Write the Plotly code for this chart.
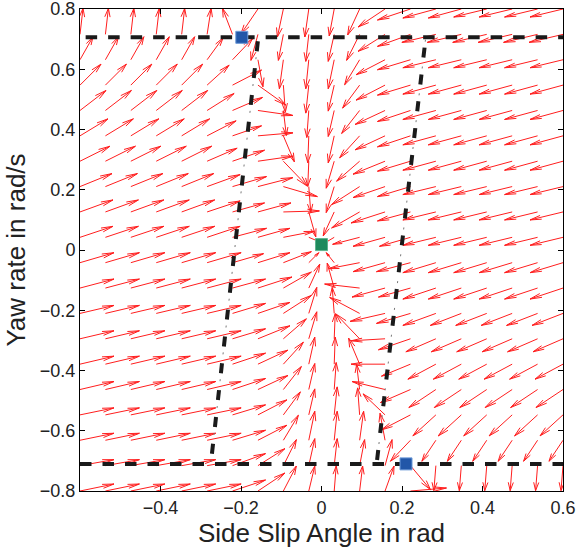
import numpy as np
import plotly.graph_objects as go

# ---------------- data ----------------
beta_grid = np.linspace(-0.6, 0.6, 20)      # side slip angle grid (rad), left -> right
r_grid = np.linspace(0.8, -0.8, 20)         # yaw rate grid (rad/s), top row first


def rep(p, n):
    return [p] * n


# Quiver field: for each grid row (top first) the 20 arrows,
# each as (d_beta, d_r) extent of the drawn arrow, in reference screen pixels (right / up positive)
FIELD_ROWS = [
    rep((3, 26), 6) + [(2, 26), (-17, -25), (-6, -28), (-4, -28), (-5, -27), (-12, -26), (-27, -18), (-33, -11)]
    + [(-33, -9), (-33, -9), (-33, -8), (-33, -8), (-33, -8), (-33, -8)],
    rep((3, 26), 5) + [(4, 26), (-10, 26), (-7, -26), (-5, -26), (-3, -27), (-6, -27), (-13, -26), (-27, -17), (-33, -12)]
    + rep((-34, -8), 6),
    rep((13, 23), 5) + [(16, 22), (20, 21), (5, -27), (-4, -29), (-3, -29), (-6, -29), (-15, -25), (-29, -15), (-33, -10)]
    + rep((-33, -8), 6),
    rep((21, 21), 5) + [(22, 20), (29, 15), (28, -20), (2, -27), (-3, -28), (-6, -26), (-17, -23), (-29, -15), (-33, -10)]
    + rep((-33, -9), 6),
    rep((26, 20), 5) + [(27, 17), (30, 13), (35, -5), (3, -25), (-2, -27), (-6, -26), (-18, -23), (-30, -14), (-33, -11)]
    + rep((-33, -9), 6),
    rep((28, 17), 5) + [(29, 15), (29, 10), (35, 3), (11, -26), (-1, -27), (-6, -27), (-20, -22), (-30, -14), (-33, -11)]
    + rep((-33, -9), 6),
    rep((30, 15), 5) + [(30, 13), (32, 11), (35, 5), (24, -25), (-1, -25), (-8, -27), (-23, -20), (-32, -13), (-33, -10)]
    + rep((-33, -9), 6),
    rep((32, 13), 5) + [(33, 12), (34, 10), (35, 9), (34, -10), (2, -26), (-8, -26), (-28, -18), (-32, -11), (-33, -10)]
    + rep((-33, -8), 6),
    rep((33, 12), 5) + [(33, 11), (32, 9), (33, 9), (36, 1), (7, -25), (-11, -24), (-28, -16), (-34, -11), (-33, -9)]
    + rep((-33, -8), 6),
    rep((33, 11), 6) + [(34, 9), (32, 9), (31, 6), (12, -5), (-10, -6), (-27, -7), (-32, -9), (-31, -9)]
    + rep((-33, -8), 6),
    rep((34, 10), 6) + [(31, 9), (32, 10), (28, 11), (10, 10), (-8, 10), (-31, -6), (-32, -9), (-34, -9)]
    + rep((-33, -10), 6),
    rep((34, 9), 6) + [(33, 9), (34, 11), (28, 16), (11, 24), (-7, 25), (-35, 4), (-33, -9), (-32, -9)]
    + rep((-33, -11), 6),
    rep((34, 8), 6) + [(33, 10), (32, 11), (28, 18), (8, 26), (-2, 26), (-30, 16), (-35, -8), (-34, -10)]
    + [(-33, -12)] + rep((-31, -12), 5),
    rep((34, 8), 6) + [(33, 10), (32, 13), (23, 20), (8, 27), (1, 25), (-24, 25), (-34, -2), (-32, -11)]
    + rep((-30, -13), 6),
    rep((34, 8), 6) + [(33, 11), (30, 14), (20, 22), (6, 27), (1, 27), (-11, 26), (-34, 0), (-29, -12)]
    + rep((-28, -15), 6),
    rep((34, 8), 6) + [(33, 11), (30, 14), (18, 23), (6, 26), (2, 27), (-3, 25), (-33, 8), (-30, -13)]
    + rep((-27, -18), 6),
    rep((34, 7), 6) + [(33, 10), (29, 15), (17, 23), (6, 26), (3, 28), (-2, 27), (-22, 21), (-29, -15)]
    + rep((-23, -21), 6),
    rep((34, 7), 6) + [(33, 10), (29, 15), (15, 25), (6, 29), (3, 29), (4, 29), (-5, 27), (-20, -21)]
    + rep((-14, -21), 6),
    rep((34, 6), 6) + [(33, 12), (27, 17), (13, 26), (6, 27), (3, 27), (5, 26), (7, 26), (20, -24)]
    + rep((-2, -25), 6),
    rep((34, 7), 6) + [(33, 11), (27, 18), (13, 25), (6, 25), (2, 25), (3, 25), (9, 25), (36, 3)]
    + rep((-3, -26), 6),
]

# switching lines / envelope boundaries
r_limit_top = 0.706
r_limit_bot = -0.710
left_line_beta = [-0.157, -0.275]
left_line_r = [0.706, -0.710]
right_line_beta = [0.137, 0.259]
right_line_r = [-0.710, 0.706]

# special points
blue_beta = [-0.198, 0.210]
blue_r = [0.706, -0.710]
green_beta = [0.0]
green_r = [0.018]

x_ticks = [-0.4, -0.2, 0, 0.2, 0.4, 0.6]
y_ticks = [-0.8, -0.6, -0.4, -0.2, 0, 0.2, 0.4, 0.6, 0.8]

# ---------------- layout geometry ----------------
W, H = 576, 548
ML, MR, MT, MB = 80, 13, 9, 57
XR = [-0.6, 0.6]
YR = [-0.8, 0.8]
PXX = (W - ML - MR) / (XR[1] - XR[0])
PXY = (H - MT - MB) / (YR[1] - YR[0])

# MATLAB quiver style arrow heads
ALPHA, BETA_W = 0.33, 0.23
xs, ys = [], []
for i, r in enumerate(r_grid):
    for k, b in enumerate(beta_grid):
        dx, dy = FIELD_ROWS[i][k]
        u, v = dx / PXX, dy / PXY
        x1, y1 = b + u, r + v
        xs += [b, x1, None]
        ys += [r, y1, None]
        xs += [x1 - ALPHA * (u + BETA_W * v), x1, x1 - ALPHA * (u - BETA_W * v), None]
        ys += [y1 - ALPHA * (v - BETA_W * u), y1, y1 - ALPHA * (v + BETA_W * u), None]

fig = go.Figure()
fig.add_trace(go.Scatter(x=xs, y=ys, mode="lines", line=dict(color="rgb(255,30,30)", width=1),
                         hoverinfo="skip", showlegend=False))

dash_col = "#1a1a1a"
fig.add_trace(go.Scatter(x=[-0.586, 0.6], y=[r_limit_top, r_limit_top], mode="lines",
                         line=dict(color=dash_col, width=4, dash="11.5px,11px"), showlegend=False))
fig.add_trace(go.Scatter(x=[-0.6, 0.6], y=[r_limit_bot, r_limit_bot], mode="lines",
                         line=dict(color=dash_col, width=4, dash="11.5px,11px"), showlegend=False))
for bx, by in [(left_line_beta, left_line_r), (right_line_beta, right_line_r)]:
    fig.add_trace(go.Scatter(x=bx, y=by, mode="lines",
                             line=dict(color=dash_col, width=4, dash="0px,4px,10px,13px"), showlegend=False))
    fig.add_trace(go.Scatter(x=bx, y=by, mode="lines",
                             line=dict(color="#777777", width=1, dash="0px,20px,2px,5px"), showlegend=False))

fig.add_trace(go.Scatter(x=blue_beta, y=blue_r, mode="markers",
                         marker=dict(symbol="square", size=12, color="#2257a8",
                                     line=dict(color="#6d9ad8", width=1)), showlegend=False))
fig.add_trace(go.Scatter(x=green_beta, y=green_r, mode="markers",
                         marker=dict(symbol="square", size=12, color="#1f8a5c",
                                     line=dict(color="#5fb38d", width=1)), showlegend=False))

font = "Liberation Sans, Arial, Helvetica, sans-serif"
axis_common = dict(showgrid=False, zeroline=False, showline=True, linecolor="black", linewidth=1,
                   mirror="ticks", ticks="inside", ticklen=5, tickcolor="black", automargin=False,
                   ticklabeloverflow="allow",
                   tickfont=dict(family=font, size=18, color="#222"))
fig.update_layout(
    width=W, height=H, margin=dict(l=ML, r=MR, t=MT, b=MB),
    paper_bgcolor="white", plot_bgcolor="white", hovermode=False,
    xaxis=dict(range=XR, tickvals=x_ticks, ticktext=[f"{t:g}".replace("-", "\u2212") for t in x_ticks],
               title=dict(text="Side Slip Angle in rad", font=dict(family=font, size=26, color="#222"),
                          standoff=0), **axis_common),
    yaxis=dict(range=YR, tickvals=y_ticks, ticktext=[f"{t:g}".replace("-", "\u2212") for t in y_ticks],
               title=dict(text="Yaw rate in rad/s", font=dict(family=font, size=26, color="#222"),
                          standoff=6), **axis_common),
)
fig.write_html("out.html", config={"displayModeBar": False},
               post_script="document.body.style.margin='0px';")
